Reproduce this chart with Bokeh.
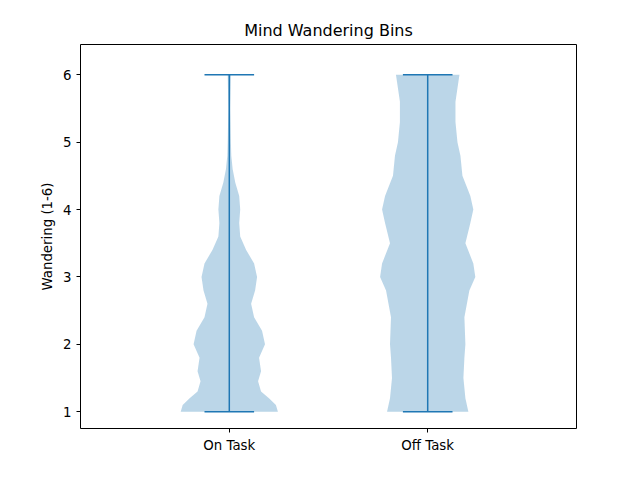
from bokeh.plotting import figure
from bokeh.models import FixedTicker
from bokeh.embed import file_html
from bokeh.resources import INLINE

categories = ["On Task", "Off Task"]
positions = [1, 2]

# violin half-widths (data units)
on_y = [1.0, 1.1, 1.2, 1.3, 1.45, 1.6, 1.8, 2.0, 2.2, 2.4, 2.6, 2.8, 3.0, 3.2, 3.4, 3.6, 3.8, 4.0, 4.2, 4.4, 4.6, 4.8, 5.0, 5.5, 6.0]
on_w = [0.245, 0.235, 0.2, 0.16, 0.145, 0.16, 0.15, 0.18, 0.165, 0.125, 0.11, 0.13, 0.14, 0.125, 0.085, 0.055, 0.05, 0.055, 0.05, 0.03, 0.017, 0.01, 0.008, 0.005, 0.008]
off_y = [1.0, 1.2, 1.5, 1.8, 2.0, 2.4, 2.8, 3.0, 3.2, 3.5, 3.8, 4.0, 4.2, 4.5, 4.8, 5.0, 5.3, 5.6, 5.8, 6.0]
off_w = [0.205, 0.19, 0.18, 0.185, 0.19, 0.185, 0.21, 0.24, 0.23, 0.19, 0.215, 0.23, 0.215, 0.175, 0.165, 0.15, 0.14, 0.14, 0.15, 0.16]
y_min = [1, 1]
y_max = [6, 6]

blue = "#1f77b4"
p = figure(width=624, height=464, x_range=(0.25, 2.75), y_range=(0.75, 6.45),
           output_backend="svg", toolbar_location=None, title="Mind Wandering Bins",
           min_border_left=80, min_border_right=48, min_border_top=44, min_border_bottom=36)
p.title.align = "center"
p.title.text_font = "DejaVu Sans"
p.title.text_font_style = "normal"
p.title.text_font_size = "12pt"
p.title.text_color = "black"

for pos, ys, ws in [(1, on_y, on_w), (2, off_y, off_w)]:
    xs = [pos + w for w in ws] + [pos - w for w in reversed(ws)]
    yy = list(ys) + list(reversed(ys))
    p.patch(xs, yy, fill_color=blue, fill_alpha=0.3, line_color=None)

p.segment(x0=positions, y0=y_min, x1=positions, y1=y_max, line_color=blue, line_width=1.5)
p.segment(x0=[x - 0.125 for x in positions], y0=y_min, x1=[x + 0.125 for x in positions], y1=y_min, line_color=blue, line_width=1.5)
p.segment(x0=[x - 0.125 for x in positions], y0=y_max, x1=[x + 0.125 for x in positions], y1=y_max, line_color=blue, line_width=1.5)

p.xgrid.visible = False
p.ygrid.visible = False
p.outline_line_color = "black"
p.xaxis.ticker = FixedTicker(ticks=positions)
p.xaxis.major_label_overrides = {1: "On Task", 2: "Off Task"}
p.yaxis.ticker = FixedTicker(ticks=[1, 2, 3, 4, 5, 6])
p.yaxis.axis_label = "Wandering (1-6)"
for ax in (p.xaxis, p.yaxis):
    ax.minor_tick_line_color = None
    ax.major_tick_in = 0
    ax.major_tick_out = 4
    ax.major_tick_line_color = "black"
    ax.major_label_text_color = "black"
    ax.axis_label_text_color = "black"
    ax.major_label_text_font = "DejaVu Sans"
    ax.major_label_text_font_size = "10pt"
    ax.axis_label_text_font = "DejaVu Sans"
    ax.axis_label_text_font_style = "normal"
    ax.axis_label_text_font_size = "10pt"
    ax.axis_line_color = None

open("out.html", "w").write(file_html(p, INLINE))
